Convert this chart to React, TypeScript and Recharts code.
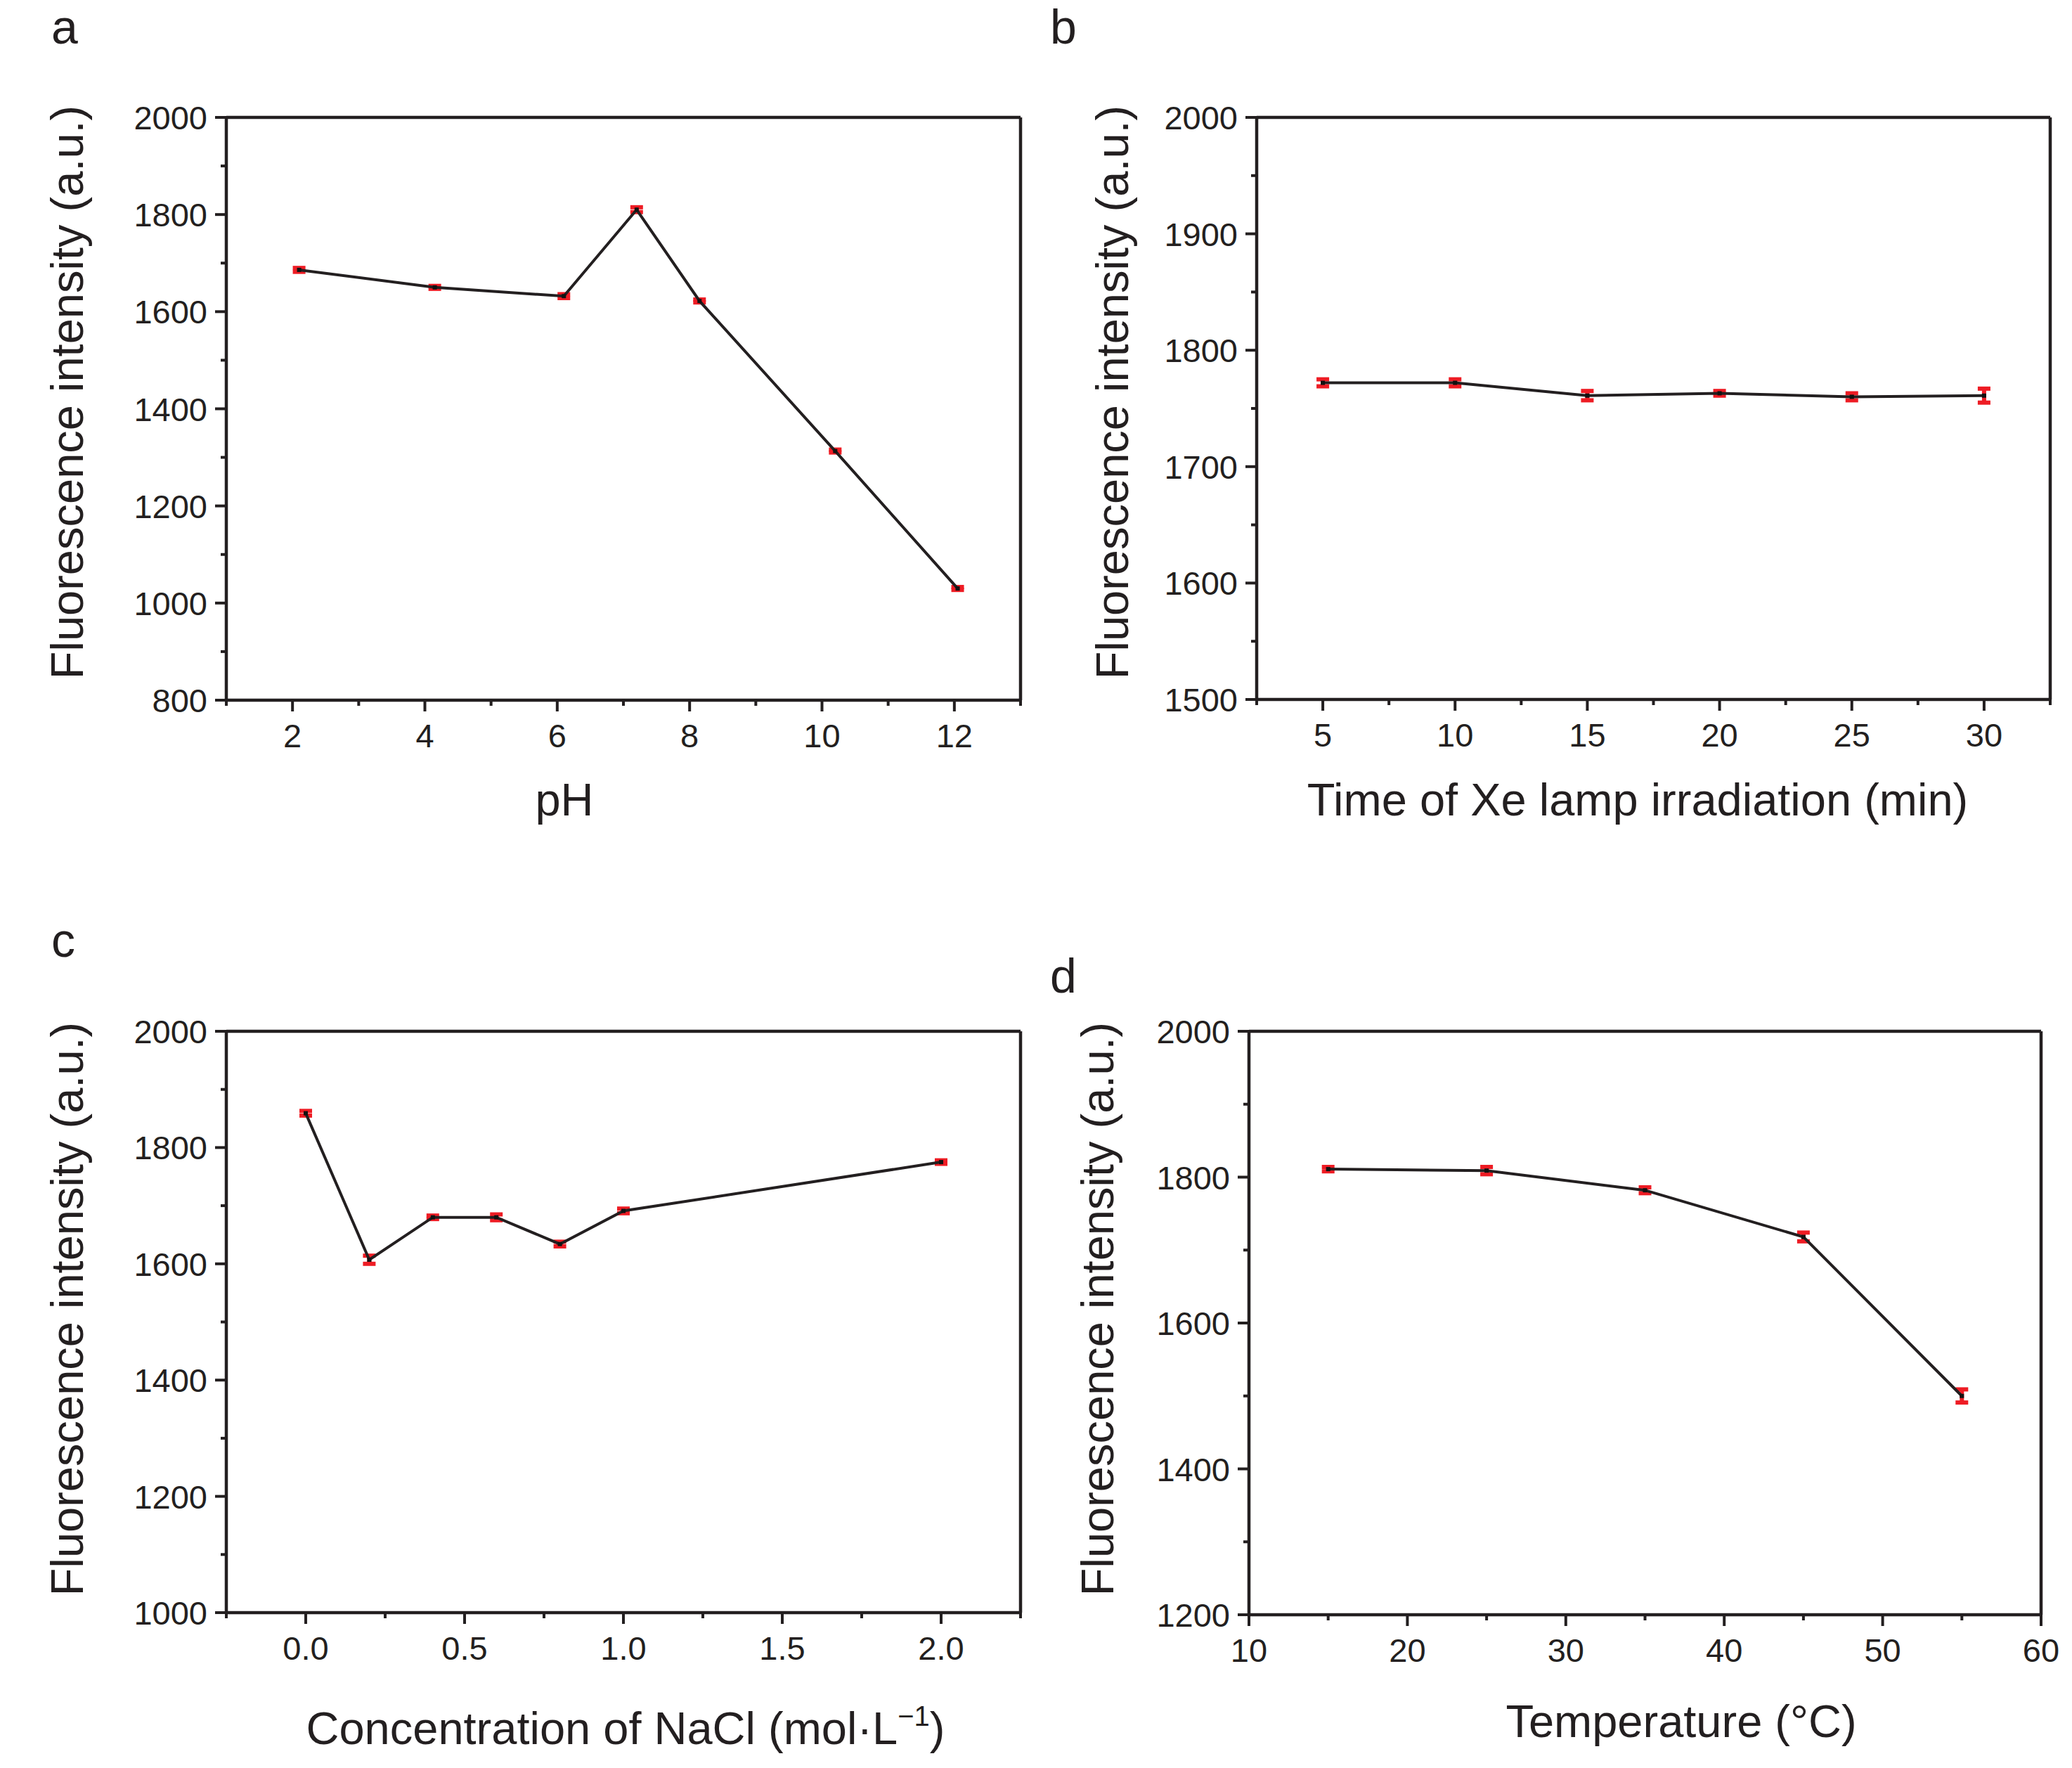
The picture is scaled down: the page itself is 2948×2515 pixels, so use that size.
import React from 'react';
import { LineChart, Line, XAxis, YAxis, ErrorBar, ReferenceLine } from 'recharts';

const FONT = '"Liberation Sans", Arial, Helvetica, sans-serif';
const INK = '#231f20';
const RED = '#ee1c24';

// ---------- panel a: pH ----------
const phX = [2.1, 4.15, 6.1, 7.2, 8.15, 10.2, 12.05];
const phY = [1686, 1650, 1632, 1810, 1622, 1313, 1030];
const phErr = [4, 3, 4, 5, 3, 3, 3];
const phXMajor = [2, 4, 6, 8, 10, 12];
const phXMinor = [1, 3, 5, 7, 9, 11, 13];
const phYMajor = [800, 1000, 1200, 1400, 1600, 1800, 2000];
const phYMinor = [900, 1100, 1300, 1500, 1700, 1900];

// ---------- panel b: Xe lamp time ----------
const timeX = [5, 10, 15, 20, 25, 30];
const timeY = [1772, 1772, 1761, 1763, 1760, 1761];
const timeErr = [3, 3, 4, 2, 3, 6];
const timeXMajor = [5, 10, 15, 20, 25, 30];
const timeXMinor = [2.5, 7.5, 12.5, 17.5, 22.5, 27.5, 32.5];
const timeYMajor = [1500, 1600, 1700, 1800, 1900, 2000];
const timeYMinor = [1550, 1650, 1750, 1850, 1950];

// ---------- panel c: NaCl ----------
const naclX = [0, 0.2, 0.4, 0.6, 0.8, 1.0, 2.0];
const naclY = [1859, 1607, 1680, 1680, 1634, 1691, 1775];
const naclErr = [4, 7, 3, 5, 4, 4, 3];
const naclXMajor = [0, 0.5, 1.0, 1.5, 2.0];
const naclXMinor = [-0.25, 0.25, 0.75, 1.25, 1.75, 2.25];
const naclYMajor = [1000, 1200, 1400, 1600, 1800, 2000];
const naclYMinor = [1100, 1300, 1500, 1700, 1900];

// ---------- panel d: temperature ----------
const tempX = [15, 25, 35, 45, 55];
const tempY = [1811, 1809, 1782, 1718, 1500];
const tempErr = [3, 5, 4, 6, 9];
const tempXMajor = [10, 20, 30, 40, 50, 60];
const tempXMinor = [15, 25, 35, 45, 55];
const tempYMajor = [1200, 1400, 1600, 1800, 2000];
const tempYMinor = [1300, 1500, 1700, 1900];

const isIn = (arr: number[], v: number) => arr.some((m) => Math.abs(m - v) < 1e-9);

function makeXTick(majors: number[], fmt: (v: number) => string) {
  return (props: any) => {
    const { x, y, payload } = props;
    const v = payload.value;
    const major = isIn(majors, v);
    const len = major ? 16 : 8;
    return (
      <g>
        <line x1={x} y1={y} x2={x} y2={y + len} stroke={INK} strokeWidth={4} />
        {major && (
          <text x={x} y={y + 67} textAnchor="middle" fontSize={47} fill={INK} fontFamily={FONT}>
            {fmt(v)}
          </text>
        )}
      </g>
    );
  };
}

function makeYTick(majors: number[]) {
  return (props: any) => {
    const { x, y, payload } = props;
    const v = payload.value;
    const major = isIn(majors, v);
    const len = major ? 16 : 8;
    return (
      <g>
        <line x1={x} y1={y} x2={x - len} y2={y} stroke={INK} strokeWidth={4} />
        {major && (
          <text x={x - 27} y={y + 17} textAnchor="end" fontSize={47} fill={INK} fontFamily={FONT}>
            {String(v)}
          </text>
        )}
      </g>
    );
  };
}

const SquareDot = (p: any) => {
  if (p.cx == null || p.cy == null) return <g />;
  return <rect x={p.cx - 3} y={p.cy - 3} width={6} height={6} fill="#111" />;
};

type Panel = {
  key: string;
  left: number;
  top: number;
  width: number;
  height: number;
  plot: { l: number; t: number; r: number; b: number };
  xs: number[];
  ys: number[];
  errs: number[];
  xDomain: [number, number];
  yDomain: [number, number];
  xMajor: number[];
  xMinor: number[];
  yMajor: number[];
  yMinor: number[];
  xFmt: (v: number) => string;
  yTitle: { x: number; y: number };
  xTitle: { x: number; y: number };
  xTitleNode: React.ReactNode;
};

const Y_AXIS_W = 250;
const X_AXIS_H = 200;

function PanelChart({ p }: { p: Panel }) {
  const data = p.xs.map((x, i) => ({ x, y: p.ys[i], err: p.errs[i] }));
  const margin = {
    top: p.plot.t - p.top,
    left: p.plot.l - p.left - Y_AXIS_W,
    right: p.left + p.width - p.plot.r,
    bottom: p.top + p.height - p.plot.b - X_AXIS_H,
  };
  const yt = { x: p.yTitle.x - p.left, y: p.yTitle.y - p.top };
  const xt = { x: p.xTitle.x - p.left, y: p.xTitle.y - p.top };
  return (
    <div style={{ position: 'absolute', left: p.left, top: p.top, width: p.width, height: p.height }}>
      <LineChart width={p.width} height={p.height} data={data} margin={margin}>
        <XAxis
          type="number"
          dataKey="x"
          domain={p.xDomain}
          ticks={[...p.xMajor, ...p.xMinor].sort((a, b) => a - b)}
          interval={0}
          allowDataOverflow
          height={X_AXIS_H}
          tickSize={0}
          tickMargin={0}
          tickLine={false}
          axisLine={{ stroke: INK, strokeWidth: 4.5 }}
          tick={makeXTick(p.xMajor, p.xFmt)}
          label={() => (
            <text x={xt.x} y={xt.y} textAnchor="middle" fontSize={65} fill={INK} fontFamily={FONT}>
              {p.xTitleNode}
            </text>
          )}
        />
        <YAxis
          type="number"
          domain={p.yDomain}
          ticks={[...p.yMajor, ...p.yMinor].sort((a, b) => a - b)}
          interval={0}
          allowDataOverflow
          width={Y_AXIS_W}
          tickSize={0}
          tickMargin={0}
          tickLine={false}
          axisLine={{ stroke: INK, strokeWidth: 4.5 }}
          tick={makeYTick(p.yMajor)}
          label={() => (
            <text
              x={yt.x}
              y={yt.y}
              transform={`rotate(-90 ${yt.x} ${yt.y})`}
              textAnchor="middle"
              fontSize={65}
              fill={INK}
              fontFamily={FONT}
            >
              Fluorescence intensity (a.u.)
            </text>
          )}
        />
        <ReferenceLine y={p.yDomain[1]} stroke={INK} strokeWidth={4.5} />
        <ReferenceLine x={p.xDomain[1]} stroke={INK} strokeWidth={4.5} />
        <Line
          type="linear"
          dataKey="y"
          stroke={INK}
          strokeWidth={4}
          dot={SquareDot}
          activeDot={false}
          isAnimationActive={false}
        >
          <ErrorBar dataKey="err" direction="y" width={9} strokeWidth={6} stroke={RED} />
        </Line>
      </LineChart>
    </div>
  );
}

const panels: Panel[] = [
  {
    key: 'a',
    left: 0,
    top: 0,
    width: 1474,
    height: 1250,
    plot: { l: 322, t: 167, r: 1452, b: 996 },
    xs: phX,
    ys: phY,
    errs: phErr,
    xDomain: [1, 13],
    yDomain: [800, 2000],
    xMajor: phXMajor,
    xMinor: phXMinor,
    yMajor: phYMajor,
    yMinor: phYMinor,
    xFmt: (v) => String(v),
    yTitle: { x: 118, y: 558 },
    xTitle: { x: 803, y: 1160 },
    xTitleNode: 'pH',
  },
  {
    key: 'b',
    left: 1474,
    top: 0,
    width: 1474,
    height: 1250,
    plot: { l: 1788, t: 167, r: 2917, b: 995 },
    xs: timeX,
    ys: timeY,
    errs: timeErr,
    xDomain: [2.5, 32.5],
    yDomain: [1500, 2000],
    xMajor: timeXMajor,
    xMinor: timeXMinor,
    yMajor: timeYMajor,
    yMinor: timeYMinor,
    xFmt: (v) => String(v),
    yTitle: { x: 1605, y: 558 },
    xTitle: { x: 2330, y: 1160 },
    xTitleNode: 'Time of Xe lamp irradiation (min)',
  },
  {
    key: 'c',
    left: 0,
    top: 1250,
    width: 1474,
    height: 1265,
    plot: { l: 322, t: 1467, r: 1452, b: 2294 },
    xs: naclX,
    ys: naclY,
    errs: naclErr,
    xDomain: [-0.25, 2.25],
    yDomain: [1000, 2000],
    xMajor: naclXMajor,
    xMinor: naclXMinor,
    yMajor: naclYMajor,
    yMinor: naclYMinor,
    xFmt: (v) => v.toFixed(1),
    yTitle: { x: 118, y: 1862 },
    xTitle: { x: 890, y: 2481 },
    xTitleNode: (
      <>
        <tspan>Concentration of NaCl (mol·L</tspan>
        <tspan fontSize={40} dy={-26}>−1</tspan>
        <tspan dy={26}>)</tspan>
      </>
    ),
  },
  {
    key: 'd',
    left: 1474,
    top: 1250,
    width: 1474,
    height: 1265,
    plot: { l: 1777, t: 1467, r: 2904, b: 2297 },
    xs: tempX,
    ys: tempY,
    errs: tempErr,
    xDomain: [10, 60],
    yDomain: [1200, 2000],
    xMajor: tempXMajor,
    xMinor: tempXMinor,
    yMajor: tempYMajor,
    yMinor: tempYMinor,
    xFmt: (v) => String(v),
    yTitle: { x: 1584, y: 1862 },
    xTitle: { x: 2392, y: 2471 },
    xTitleNode: 'Temperature (°C)',
  },
];

const panelLetters = ['a', 'b', 'c', 'd'];
const letterPos = [
  { x: 73, y: 62 },
  { x: 1494, y: 62 },
  { x: 73, y: 1361 },
  { x: 1494, y: 1412 },
];

export default function App() {
  return (
    <div
      style={{
        position: 'absolute',
        left: 0,
        top: 0,
        width: 2948,
        height: 2515,
        background: '#ffffff',
        fontFamily: FONT,
      }}
    >
      {panels.map((p) => (
        <PanelChart key={p.key} p={p} />
      ))}
      <svg
        width={2948}
        height={2515}
        style={{ position: 'absolute', left: 0, top: 0, pointerEvents: 'none' }}
      >
        {panelLetters.map((l, i) => (
          <text key={l} x={letterPos[i].x} y={letterPos[i].y} fontSize={68} fill={INK} fontFamily={FONT}>
            {l}
          </text>
        ))}
      </svg>
    </div>
  );
}
